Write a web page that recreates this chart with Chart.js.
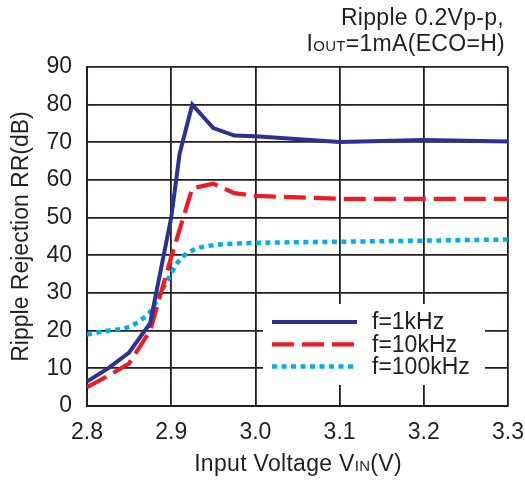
<!DOCTYPE html>
<html>
<head>
<meta charset="utf-8">
<script src="https://cdn.jsdelivr.net/npm/chart.js@4.4.1/dist/chart.umd.min.js"></script>
<style>
  html, body { margin:0; padding:0; background:#fff; }
  #wrap { width:525px; height:483px; position:relative; }
</style>
</head>
<body>
<div id="wrap"><canvas id="grafico"></canvas></div>
<script>
// Datos: RR (dB) vs VIN (V)
const series = ['f=1kHz', 'f=10kHz', 'f=100kHz'];
const vin1k  = [2.8, 2.825, 2.85, 2.875, 2.9, 2.91, 2.925, 2.95, 2.975, 3.0, 3.1, 3.2, 3.3];
const rr1k   = [6.5, 10, 14.2, 22, 50, 67, 80, 73.8, 71.8, 71.6, 70.1, 70.6, 70.2];
const vin10k = [2.8, 2.825, 2.85, 2.875, 2.9, 2.925, 2.95, 2.975, 3.0, 3.1, 3.2, 3.3];
const rr10k  = [5, 8, 11.3, 20, 39.5, 57.8, 59, 56.5, 55.8, 55, 55, 55];
const vin100k = [2.8, 2.825, 2.85, 2.865, 2.875, 2.89, 2.9, 2.91, 2.925, 2.95, 2.975, 3.0, 3.1, 3.2, 3.3];
const rr100k  = [19, 20, 21, 23, 25, 31, 35.2, 38.8, 41.3, 42.7, 43.1, 43.3, 43.6, 43.9, 44.2];
const xTicks = [2.8, 2.9, 3.0, 3.1, 3.2, 3.3];
const yTicks = [0, 10, 20, 30, 40, 50, 60, 70, 80, 90];

const FONT = "'Liberation Sans', Arial, sans-serif";
const INK = '#231f20';
const pts = (xs, ys) => xs.map((x, i) => ({ x, y: ys[i] }));

// leyenda, título superior y título del eje X (con subíndices)
const extras = {
  id: 'extras',
  afterDraw(chart) {
    const ctx = chart.ctx;
    ctx.save();
    // caja de la leyenda tapa la rejilla
    ctx.fillStyle = '#fff';
    ctx.fillRect(263, 304, 222, 81);
    chart.data.datasets.forEach((ds, i) => {
      const y = 322 + i * 22.3;
      ctx.strokeStyle = ds.borderColor;
      ctx.lineWidth = ds.borderWidth;
      ctx.setLineDash(ds.borderDash || []);
      ctx.beginPath();
      ctx.moveTo(272, y);
      ctx.lineTo(357, y);
      ctx.stroke();
      ctx.setLineDash([]);
      ctx.fillStyle = INK;
      ctx.font = '23px ' + FONT;
      ctx.textBaseline = 'middle';
      ctx.textAlign = 'left';
      ctx.fillText(ds.label, 372, y + 1);
    });

    // texto con subíndice, alineado por la derecha o centrado
    ctx.letterSpacing = '0.3px';
    const runs = (parts, x, y, align) => {
      let w = 0;
      parts.forEach(p => { ctx.font = p[1] + 'px ' + FONT; w += ctx.measureText(p[0]).width; });
      let cx = align === 'right' ? x - w : x - w / 2;
      ctx.textAlign = 'left';
      ctx.textBaseline = 'alphabetic';
      parts.forEach(p => {
        ctx.font = p[1] + 'px ' + FONT;
        ctx.fillText(p[0], cx, y);
        cx += ctx.measureText(p[0]).width;
      });
    };
    ctx.fillStyle = INK;
    runs([['Ripple 0.2Vp-p,', 23]], 504, 24.5, 'right');
    runs([['I', 23], ['OUT', 15], ['=1mA(ECO=H)', 23]], 505, 50.5, 'right');
    runs([['Input Voltage V', 23], ['IN', 15], ['(V)', 23]], 298, 471, 'center');
    ctx.restore();
  }
};

new Chart(document.getElementById('grafico').getContext('2d'), {
  type: 'line',
  data: {
    datasets: [
      { label: series[0], data: pts(vin1k, rr1k), borderColor: '#2e3192', borderWidth: 4, tension: 0 },
      { label: series[1], data: pts(vin10k, rr10k), borderColor: '#ed1c24', borderWidth: 4.2, borderDash: [22, 8], tension: 0 },
      { label: series[2], data: pts(vin100k, rr100k), borderColor: '#00aeef', borderWidth: 4.5, borderDash: [5, 4.5], cubicInterpolationMode: 'monotone' }
    ]
  },
  options: {
    responsive: true,
    maintainAspectRatio: false,
    animation: false,
    layout: { padding: { top: 67, bottom: 0, left: 0, right: 17 } },
    elements: { point: { radius: 0 }, line: { borderCapStyle: 'butt' } },
    plugins: { legend: { display: false }, tooltip: { enabled: false } },
    scales: {
      x: {
        type: 'linear', min: 2.8, max: 3.3,
        afterBuildTicks: s => { s.ticks = xTicks.map(v => ({ value: v })); },
        afterFit: s => { s.paddingLeft = 0; s.paddingRight = 0; s.height = 77; },
        ticks: { color: INK, font: { family: FONT, size: 23 }, padding: 13, maxRotation: 0,
                 callback: v => Number(v).toFixed(1) },
        grid: { color: INK, lineWidth: 1.8, drawTicks: false },
        border: { color: INK, width: 2 }
      },
      y: {
        min: 0, max: 90,
        afterBuildTicks: s => { s.ticks = yTicks.map(v => ({ value: v })); },
        afterFit: s => { s.width = 87; },
        ticks: { color: INK, font: { family: FONT, size: 23 }, padding: 15 },
        grid: { color: INK, lineWidth: 1.8, drawTicks: false },
        border: { color: INK, width: 2 },
        title: { display: true, text: 'Ripple Rejection RR(dB)', color: INK,
                 font: { family: FONT, size: 23 }, padding: { top: 8, bottom: 2 } }
      }
    }
  },
  plugins: [extras]
});
</script>
</body>
</html>
